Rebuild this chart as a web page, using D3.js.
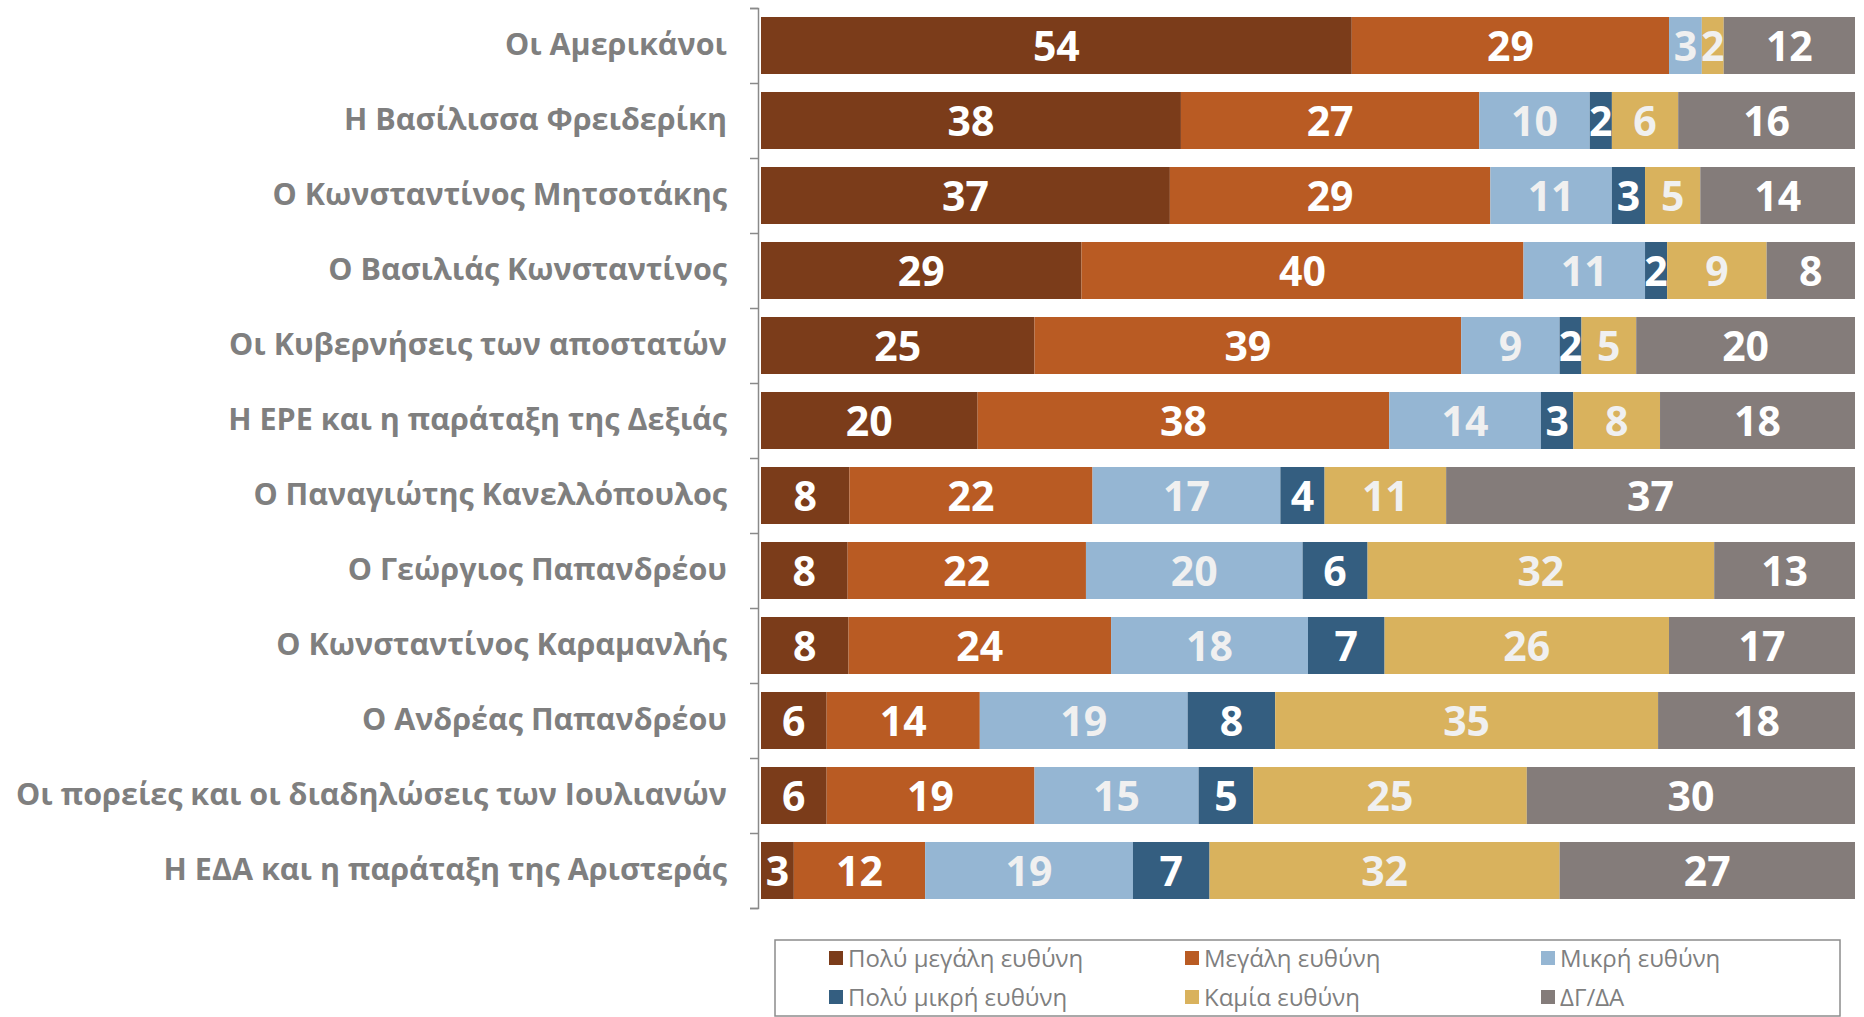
<!DOCTYPE html>
<html>
<head>
<meta charset="utf-8">
<script src="https://cdn.jsdelivr.net/npm/d3@7"></script>
<style>
  body { margin: 0; background: #fff; }
  svg { display: block; font-family: "Open Sans", sans-serif; }
</style>
</head>
<body>
<svg id="chart" width="1864" height="1017"></svg>
<script>
const categories = [
  'Οι Αμερικάνοι',
  'Η Βασίλισσα Φρειδερίκη',
  'Ο Κωνσταντίνος Μητσοτάκης',
  'Ο Βασιλιάς Κωνσταντίνος',
  'Οι Κυβερνήσεις των αποστατών',
  'Η ΕΡΕ και η παράταξη της Δεξιάς',
  'Ο Παναγιώτης Κανελλόπουλος',
  'Ο Γεώργιος Παπανδρέου',
  'Ο Κωνσταντίνος Καραμανλής',
  'Ο Ανδρέας Παπανδρέου',
  'Οι πορείες και οι διαδηλώσεις των Ιουλιανών',
  'Η ΕΔΑ και η παράταξη της Αριστεράς',
];
const seriesNames = ['Πολύ μεγάλη ευθύνη', 'Μεγάλη ευθύνη', 'Μικρή ευθύνη',
                     'Πολύ μικρή ευθύνη', 'Καμία ευθύνη', 'ΔΓ/ΔΑ'];
const veryHigh = [54, 38, 37, 29, 25, 20, 8, 8, 8, 6, 6, 3];
const high     = [29, 27, 29, 40, 39, 38, 22, 22, 24, 14, 19, 12];
const low      = [3, 10, 11, 11, 9, 14, 17, 20, 18, 19, 15, 19];
const veryLow  = [0, 2, 3, 2, 2, 3, 4, 6, 7, 8, 5, 7];
const none     = [2, 6, 5, 9, 5, 8, 11, 32, 26, 35, 25, 32];
const dkna     = [12, 16, 14, 8, 20, 18, 37, 13, 17, 18, 30, 27];
const colors = ['#7b3c1a', '#b95b23', '#95b6d3', '#345e80', '#d9b25d', '#847c7a'];
const labelColors = ['#fff', '#fff', '#f0f0f0', '#fff', '#f0f0f0', '#fff'];

const columns = [veryHigh, high, low, veryLow, none, dkna];
const rows = categories.map((category, i) => {
  const row = {category};
  seriesNames.forEach((name, k) => row[name] = columns[k][i]);
  return row;
});

const stacked = d3.stack()
  .keys(seriesNames)
  .offset(d3.stackOffsetExpand)(rows);

const svg = d3.select('#chart');
const axisX = 758;

const x = d3.scaleLinear().domain([0, 1]).range([761, 1855]);
const y = d3.scaleBand().domain(categories).range([8, 908])
  .paddingInner(0.24).paddingOuter(0.12);
const edges = d3.scaleLinear().domain([0, categories.length]).range([8, 908]);

const layers = svg.append('g')
  .selectAll('g')
  .data(stacked)
  .join('g')
    .attr('fill', (d, i) => colors[i]);

layers.selectAll('rect')
  .data(d => d)
  .join('rect')
    .attr('x', d => x(d[0]))
    .attr('y', d => y(d.data.category))
    .attr('width', d => x(d[1]) - x(d[0]))
    .attr('height', y.bandwidth());

layers.each(function(layer, i) {
  d3.select(this).selectAll('text')
    .data(layer.filter(d => d.data[layer.key] > 0))
    .join('text')
      .attr('x', d => (x(d[0]) + x(d[1])) / 2)
      .attr('y', d => y(d.data.category) + y.bandwidth() / 2)
      .attr('dy', '0.37em')
      .attr('text-anchor', 'middle')
      .attr('fill', labelColors[i])
      .style('font-size', '41px')
      .style('font-weight', 700)
      .text(d => d.data[layer.key]);
});

// axis line with ticks between categories
svg.append('g')
  .attr('transform', `translate(${axisX},0)`)
  .call(d3.axisLeft(edges).ticks(categories.length).tickSize(8).tickFormat(''))
  .call(g => g.selectAll('path, line').attr('stroke', '#8a8a8a').attr('stroke-width', 1.5));

// category labels
svg.append('g')
  .attr('transform', `translate(${axisX},0)`)
  .call(d3.axisLeft(y).tickSize(0).tickPadding(31))
  .call(g => g.select('.domain').remove())
  .call(g => g.selectAll('text')
    .attr('fill', '#7f7f7f')
    .style('font-family', '"Open Sans", sans-serif')
    .style('font-size', '30.5px')
    .style('font-weight', 700));

// legend
const legend = svg.append('g');
legend.append('rect')
  .attr('x', 775).attr('y', 940)
  .attr('width', 1065).attr('height', 76)
  .attr('fill', 'none')
  .attr('stroke', '#8c8c8c')
  .attr('stroke-width', 1.5);

const legendCols = [829, 1185, 1541];
const legendRows = [958, 997];
const items = legend.selectAll('g.item')
  .data(seriesNames)
  .join('g')
    .attr('class', 'item')
    .attr('transform', (d, i) => `translate(${legendCols[i % 3]},${legendRows[Math.floor(i / 3)]})`);
items.append('rect')
  .attr('x', 0).attr('y', -7)
  .attr('width', 14).attr('height', 14)
  .attr('fill', (d, i) => colors[i]);
items.append('text')
  .attr('x', 19)
  .attr('dy', '0.36em')
  .attr('fill', '#7f7f7f')
  .style('font-size', '24px')
  .text(d => d);
</script>
</body>
</html>
